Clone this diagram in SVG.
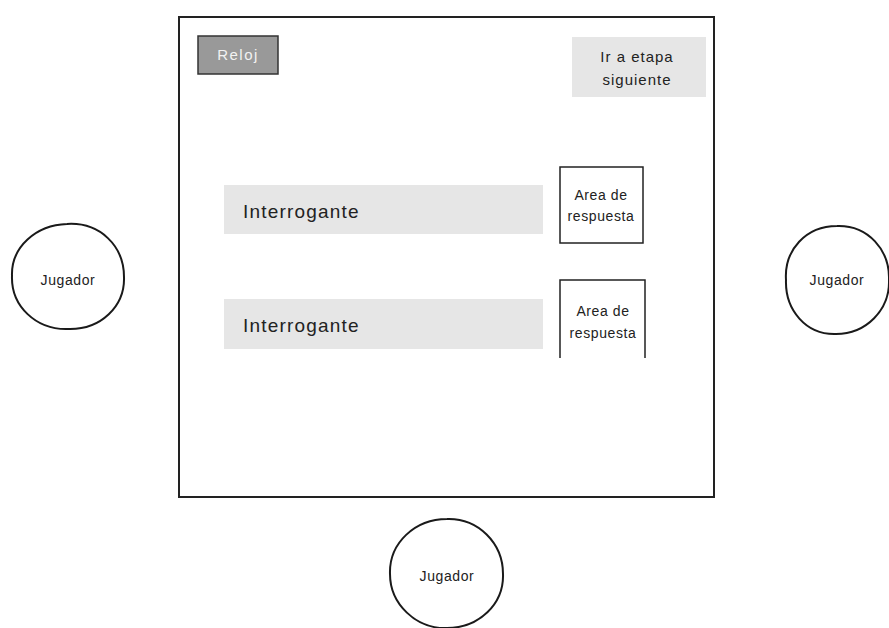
<svg xmlns="http://www.w3.org/2000/svg" width="889" height="628" viewBox="0 0 889 628">
  <style>
    .frame { fill: #ffffff; stroke: #222222; stroke-width: 2; }
    .pale { fill: #e6e6e6; stroke: none; }
    .clock { fill: #999999; stroke: #333333; stroke-width: 1.5; }
    .answer { fill: #ffffff; stroke: #222222; stroke-width: 1.5; }
    .player { fill: #ffffff; stroke: #1a1a1a; stroke-width: 2; }
    text { font-family: "Liberation Sans", "DejaVu Sans", sans-serif; fill: #222222; }
    .small { font-size: 14px; text-anchor: middle; letter-spacing: 0.6px; }
    .big { font-size: 19px; letter-spacing: 1.2px; }
  </style>

  <rect width="889" height="628" fill="#ffffff"/>

  <!-- main screen -->
  <g id="screen">
    <rect class="frame" x="179" y="17" width="535" height="480"/>
  </g>

  <g id="reloj">
    <rect class="clock" x="198" y="36" width="80" height="38"/>
    <text class="small" x="238" y="60" style="fill:#f2f2f2;font-size:15px;letter-spacing:1.5px">Reloj</text>
  </g>

  <g id="siguiente">
    <rect class="pale" x="572" y="37" width="134" height="60"/>
    <text class="small" x="637" y="62" style="font-size:15px;letter-spacing:1px">Ir a etapa</text>
    <text class="small" x="637" y="85" style="font-size:15px;letter-spacing:1px">siguiente</text>
  </g>

  <g id="interrogante1">
    <rect class="pale" x="224" y="185" width="319" height="49"/>
    <text class="big" x="243" y="218">Interrogante</text>
  </g>

  <g id="interrogante2">
    <rect class="pale" x="224" y="299" width="319" height="50"/>
    <text class="big" x="243" y="332">Interrogante</text>
  </g>

  <g id="respuesta1">
    <rect class="answer" x="560" y="167" width="83" height="76"/>
    <text class="small" x="601" y="200">Area de</text>
    <text class="small" x="601" y="221">respuesta</text>
  </g>

  <g id="respuesta2">
    <path class="answer" d="M560 358 V280 H645 V358"/>
    <text class="small" x="603" y="316">Area de</text>
    <text class="small" x="603" y="338">respuesta</text>
  </g>

  <!-- players around the board -->
  <g id="jugador-izq">
    <path class="player" d="M67 224 C100 222 124 246 124 277 C125 306 101 330 68 329 C36 330 11 306 12 276 C11 247 36 225 67 224 Z"/>
    <text class="small" x="68" y="285">Jugador</text>
  </g>

  <g id="jugador-der">
    <path class="player" d="M837 226 C868 225 890 250 889 280 C890 310 866 334 836 334 C806 335 785 310 786 280 C784 250 806 226 837 226 Z"/>
    <text class="small" x="837" y="285">Jugador</text>
  </g>

  <g id="jugador-abajo">
    <path class="player" d="M447 519 C478 518 503 543 503 574 C504 604 479 628 447 628 C416 629 390 604 390 574 C389 543 415 519 447 519 Z"/>
    <text class="small" x="447" y="581">Jugador</text>
  </g>
</svg>
